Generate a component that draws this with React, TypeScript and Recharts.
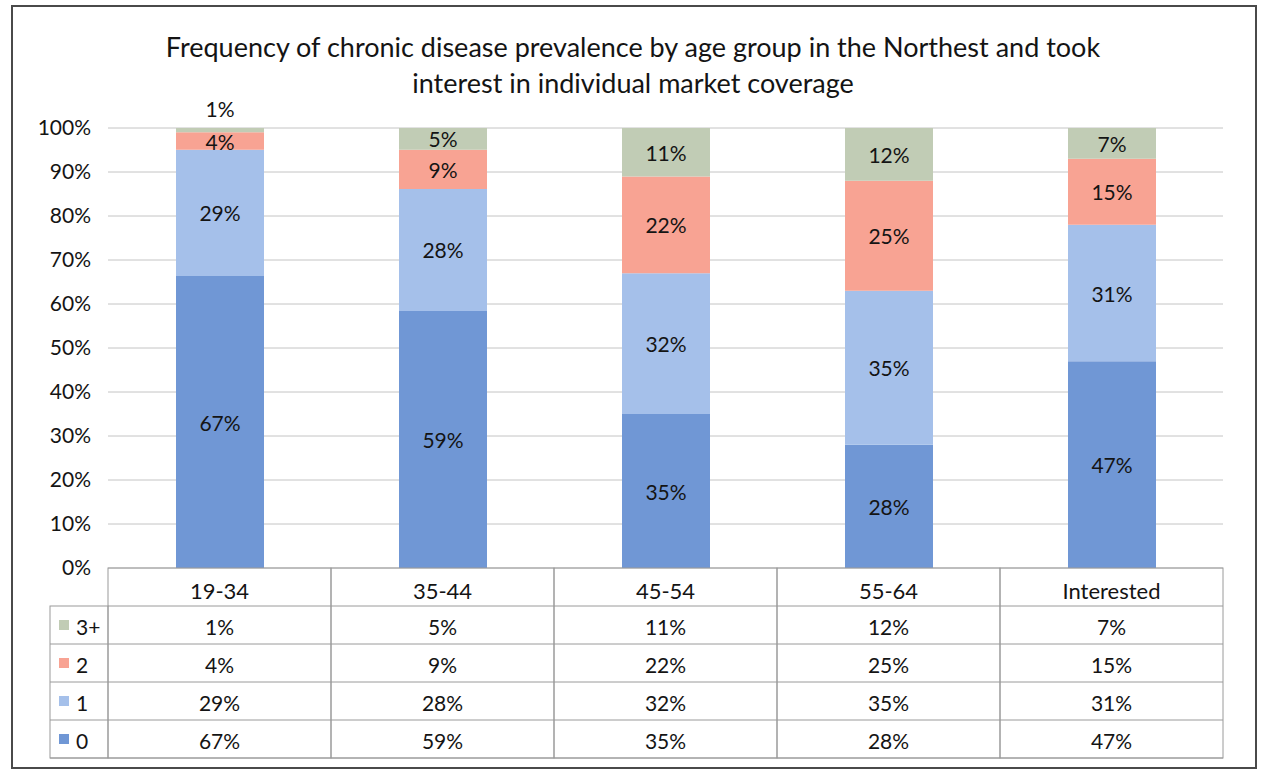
import { BarChart, Bar, XAxis, YAxis, CartesianGrid, LabelList } from "recharts";

const categories = ["19-34", "35-44", "45-54", "55-64", "Interested"];
const zero = [67, 59, 35, 28, 47];
const one = [29, 28, 32, 35, 31];
const two = [4, 9, 22, 25, 15];
const threePlus = [1, 5, 11, 12, 7];
const yTicks = [0, 0.1, 0.2, 0.3, 0.4, 0.5, 0.6, 0.7, 0.8, 0.9, 1];

const FONT = "Lato, 'Open Sans', sans-serif";
const TEXT = "#141414";

const series = [
  { key: "threePlus", name: "3+", color: "#c1ccb5", values: threePlus },
  { key: "two", name: "2", color: "#f8a393", values: two },
  { key: "one", name: "1", color: "#a5c0ea", values: one },
  { key: "zero", name: "0", color: "#7097d5", values: zero },
];

const rows = categories.map((c, i) => ({
  cat: c,
  zero: zero[i],
  one: one[i],
  two: two[i],
  threePlus: threePlus[i],
}));

const BAND = 223;
const HEAD_H = 38;
const ROW_H = 38;
const LEGEND_W = 58;

function SegLabel(props: any) {
  const x = Number(props.x);
  const y = Number(props.y);
  const w = Number(props.width);
  const h = Number(props.height);
  const cx = x + w / 2;
  const cy = h < 10 ? y - 20 : y + h / 2;
  return (
    <text x={cx} y={cy} textAnchor="middle" dominantBaseline="central" fontSize={21} fill={TEXT} fontFamily={FONT}>
      {props.value}%
    </text>
  );
}

function TableTick(props: any) {
  const { x, y, payload } = props;
  const idx = payload.index;
  const left = x - BAND / 2;
  const stroke = "#9a9a9a";
  return (
    <g>
      <rect x={left} y={y} width={BAND} height={HEAD_H + ROW_H * 4} fill="none" stroke={stroke} />
      <line x1={left} x2={left + BAND} y1={y + HEAD_H} y2={y + HEAD_H} stroke={stroke} />
      <text x={x} y={y + HEAD_H / 2 + 3} textAnchor="middle" dominantBaseline="central" fontSize={22} fill={TEXT} fontFamily={FONT}>
        {payload.value}
      </text>
      {series.map((s, r) => (
        <g key={s.key}>
          <line x1={left} x2={left + BAND} y1={y + HEAD_H + ROW_H * (r + 1)} y2={y + HEAD_H + ROW_H * (r + 1)} stroke={stroke} />
          <text x={x} y={y + HEAD_H + ROW_H * r + ROW_H / 2 + 1} textAnchor="middle" dominantBaseline="central" fontSize={21} fill={TEXT} fontFamily={FONT}>
            {s.values[idx]}%
          </text>
        </g>
      ))}
      {idx === 0 && (
        <g>
          <rect x={left - LEGEND_W} y={y + HEAD_H} width={LEGEND_W} height={ROW_H * 4} fill="none" stroke={stroke} />
          {series.map((s, r) => (
            <g key={s.key}>
              <line x1={left - LEGEND_W} x2={left} y1={y + HEAD_H + ROW_H * (r + 1)} y2={y + HEAD_H + ROW_H * (r + 1)} stroke={stroke} />
              <rect x={left - LEGEND_W + 9} y={y + HEAD_H + ROW_H * r + ROW_H / 2 - 5} width={10} height={10} fill={s.color} />
              <text x={left - LEGEND_W + 26} y={y + HEAD_H + ROW_H * r + ROW_H / 2 + 1} dominantBaseline="central" fontSize={21} fill={TEXT} fontFamily={FONT}>
                {s.name}
              </text>
            </g>
          ))}
        </g>
      )}
    </g>
  );
}

export default function App() {
  return (
    <div style={{ position: "absolute", left: 0, top: 0, width: 1262, height: 772, background: "#fff", fontFamily: FONT }}>
      <div style={{ position: "absolute", left: 11, top: 5, width: 1242, height: 760, border: "2px solid #4a4a4a" }} />
      <div style={{ position: "absolute", left: 0, top: 29, width: 1266, textAlign: "center", fontSize: 27, lineHeight: "36px", color: TEXT }}>
        Frequency of chronic disease prevalence by age group in the Northest and took
        <br />
        interest in individual market coverage
      </div>
      <div style={{ position: "absolute", left: 0, top: 0 }}>
        <BarChart
          width={1262}
          height={772}
          data={rows}
          stackOffset="expand"
          barSize={88}
          margin={{ top: 128, right: 39, left: 0, bottom: 14 }}
        >
          <CartesianGrid vertical={false} stroke="#c4c4c4" />
          <YAxis
            width={108}
            domain={[0, 1]}
            ticks={yTicks}
            tickFormatter={(v: number) => `${Math.round(v * 100)}%`}
            axisLine={false}
            tickLine={false}
            tickSize={0}
            tickMargin={17}
            tick={{ fontSize: 21, fill: TEXT, fontFamily: FONT }}
          />
          <XAxis
            dataKey="cat"
            height={190}
            axisLine={false}
            tickLine={false}
            tickSize={0}
            tickMargin={0}
            interval={0}
            tick={(p: any) => <TableTick {...p} />}
          />
          <Bar dataKey="zero" stackId="a" fill="#7097d5" isAnimationActive={false}>
            <LabelList dataKey="zero" content={SegLabel} />
          </Bar>
          <Bar dataKey="one" stackId="a" fill="#a5c0ea" isAnimationActive={false}>
            <LabelList dataKey="one" content={SegLabel} />
          </Bar>
          <Bar dataKey="two" stackId="a" fill="#f8a393" isAnimationActive={false}>
            <LabelList dataKey="two" content={SegLabel} />
          </Bar>
          <Bar dataKey="threePlus" stackId="a" fill="#c1ccb5" isAnimationActive={false}>
            <LabelList dataKey="threePlus" content={SegLabel} />
          </Bar>
        </BarChart>
      </div>
    </div>
  );
}
